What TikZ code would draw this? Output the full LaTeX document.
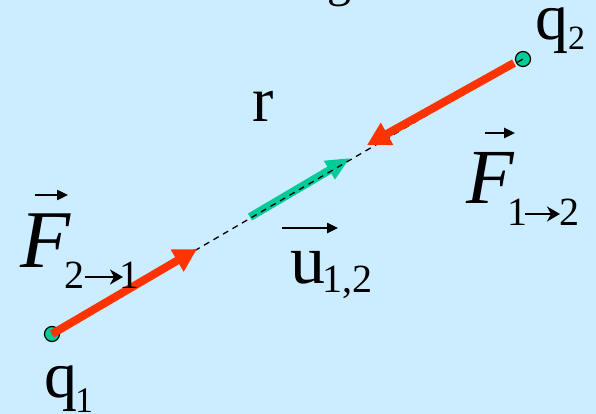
\documentclass[tikz,border=0pt]{standalone}
\usepackage{fontspec}
\setmainfont{Liberation Serif}
\usetikzlibrary{arrows.meta}
\definecolor{bgblue}{RGB}{204,236,255}
\definecolor{forcered}{RGB}{255,51,0}
\definecolor{unitgreen}{RGB}{0,204,153}
\tikzset{
  lbl/.style={anchor=base west, inner sep=0pt, outer sep=0pt, text=black},
  charge/.style={circle, draw=black, line width=1.2pt, fill=unitgreen, minimum size=15pt, inner sep=0pt},
  force/.style={draw=forcered, line width=8pt, -{Triangle[length=23pt,width=24pt]}},
  unitvec/.style={draw=unitgreen, line width=8pt, -{Triangle[length=24pt,width=20pt]}},
  joinline/.style={draw=black, line width=1.3pt, dash pattern=on 6pt off 5pt},
  overarrow/.style={draw=black, line width=2.4pt, -{Triangle[length=11pt,width=10pt]}},
  subarrow/.style={draw=black, line width=1.8pt, -{Stealth[length=13pt,width=15pt,inset=4pt]}}
}
\begin{document}
\begin{tikzpicture}[x=1pt,y=-1pt]
\fill[bgblue] (0,0) rectangle (596,414);
\useasboundingbox (0,0) rectangle (596,414);
% clipped remnant of text above
\begin{scope}
\clip (0,0) rectangle (596,414);
\node[lbl, font=\fontsize{48}{50}\selectfont] (topg) at (327,-3) {g};
\end{scope}
% charges
\node[charge] (q1) at (52,334) {};
\node[charge] (q2) at (523,59) {};
% points
\coordinate (t1) at (197,249);
\coordinate (s2) at (514,63);
\coordinate (t2) at (367,145);
\coordinate (u0) at (250,217);
\coordinate (u1) at (350,158);
% unit vector
\draw[unitvec] (u0) -- (u1);
% joining line
\draw[joinline] (q1.center) -- (q2.center);
% forces
\draw[force] (q1.center) -- (t1);
\draw[force] (s2) -- (t2);
% labels
\node[lbl, font=\fontsize{66}{70}\selectfont] (q1q) at (44,397) {q};
\node[lbl, font=\fontsize{36}{40}\selectfont] (q1s) at (75,412) {1};
\node[lbl, font=\fontsize{66}{70}\selectfont] (q2q) at (535,40) {q};
\node[lbl, font=\fontsize{34}{38}\selectfont] (q2s) at (568,50) {2};
\node[lbl, font=\fontsize{64}{68}\selectfont] (rl) at (252,122) {r};
\node[lbl, font=\fontsize{70}{74}\selectfont] (ul) at (290,283) {u};
\node[lbl, font=\fontsize{40}{44}\selectfont] (us) at (322,292) {1,2};
\coordinate (ua0) at (282,228);
\coordinate (ua1) at (338,228);
\draw[overarrow] (ua0) -- (ua1);
% F 2->1
\node[lbl, font=\fontsize{82}{86}\selectfont\itshape] (f21) at (20,267) {F};
\node[lbl, font=\fontsize{40}{44}\selectfont] (f21a) at (64,288) {2};
\coordinate (f21b0) at (85,277);
\coordinate (f21b1) at (123,277);
\draw[subarrow] (f21b0) -- (f21b1);
\node[lbl, font=\fontsize{40}{44}\selectfont] (f21c) at (119,288) {1};
\coordinate (fa0) at (35,195);
\coordinate (fa1) at (68,195);
\draw[overarrow] (fa0) -- (fa1);
% F 1->2
\node[lbl, font=\fontsize{78}{82}\selectfont\itshape] (f12) at (466,203) {F};
\node[lbl, font=\fontsize{40}{44}\selectfont] (f12a) at (507.5,225) {1};
\coordinate (f12b0) at (525,214);
\coordinate (f12b1) at (560,214);
\draw[subarrow] (f12b0) -- (f12b1);
\node[lbl, font=\fontsize{40}{44}\selectfont] (f12c) at (559,225) {2};
\coordinate (fb0) at (485,133);
\coordinate (fb1) at (515,133);
\draw[overarrow] (fb0) -- (fb1);
\end{tikzpicture}
\end{document}
